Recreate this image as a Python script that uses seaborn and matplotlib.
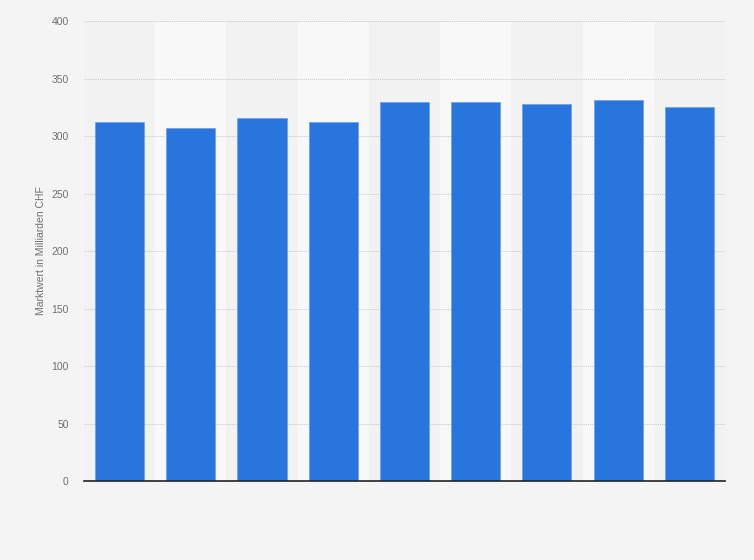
import numpy as np
import pandas as pd
import matplotlib
matplotlib.use("Agg")
import matplotlib.pyplot as plt
import seaborn as sns

sns.set_theme(style="white")
plt.rcParams['font.family'] = ['Liberation Sans', 'DejaVu Sans']

categories = ["1", "2", "3", "4", "5", "6", "7", "8", "9"]
values = [312, 307, 315.5, 312, 329.5, 329.5, 327.5, 331, 325]
y_ticks = [0, 50, 100, 150, 200, 250, 300, 350, 400]

df = pd.DataFrame({"kategorie": categories, "wert": values})

fig = plt.figure(figsize=(7.54, 5.6), dpi=100, facecolor="#f4f4f4")
ax = fig.add_axes([0.1114, 0.141, 0.8501, 0.8215])
ax.set_facecolor("#f2f2f2")

# abwechselnde helle Spalten im Hintergrund
for i in range(len(categories)):
    if i % 2 == 1:
        ax.axvspan(i - 0.5, i + 0.5, color="#f8f8f8", zorder=0, lw=0)

sns.barplot(data=df, x="kategorie", y="wert", color="#2876dd", saturation=1,
            width=0.69, edgecolor="#6fa3ea", linewidth=0.6, ax=ax, zorder=3)

ax.set_xlim(-0.5, len(categories) - 0.5)
ax.set_ylim(0, 400)
ax.set_yticks(y_ticks)
ax.set_yticklabels([str(t) for t in y_ticks], fontsize=7.5, color="#707070")
ax.set_xticks([])
ax.set_xlabel("")
ax.set_ylabel("Marktwert in Milliarden CHF", fontsize=7.5, color="#707070", labelpad=4)
ax.tick_params(axis="y", length=0, pad=11)

ax.grid(axis="y", color="#c8c8c8", linestyle=(0, (1, 1)), linewidth=0.7, zorder=1)
ax.set_axisbelow(True)

for s in ["top", "right", "left"]:
    ax.spines[s].set_visible(False)
ax.spines["bottom"].set_color("#222222")
ax.spines["bottom"].set_linewidth(1.2)
ax.spines["bottom"].set_zorder(4)

fig.savefig("out.png", dpi=100, facecolor=fig.get_facecolor())
